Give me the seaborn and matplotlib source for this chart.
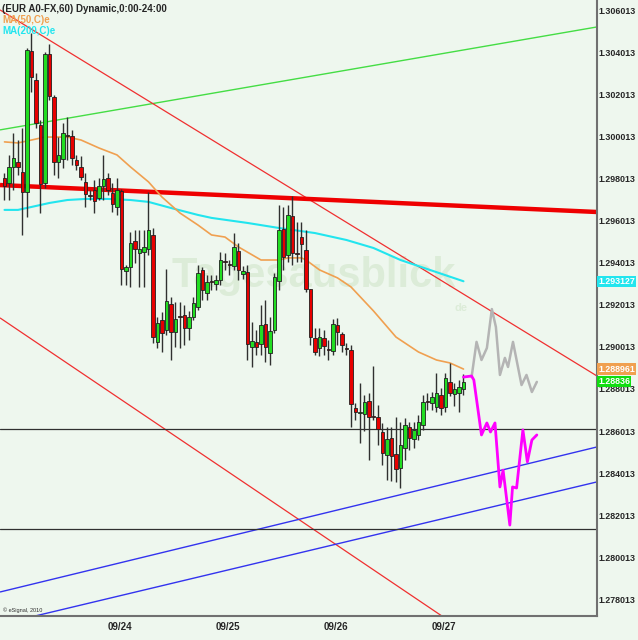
import matplotlib
matplotlib.use("Agg")
import matplotlib.pyplot as plt
import numpy as np
import pandas as pd
import seaborn as sns

# hourly candles, index 0 = first bar on screen, 09/24 00:00 is bar 23
OPEN = [1.29804, 1.29780, 1.29856, 1.29880, 1.29832, 1.29737, 1.30407, 1.30269, 1.30055, 1.29780,
        1.30393, 1.30188, 1.29880, 1.29894, 1.30008, 1.30003, 1.29889, 1.29856, 1.29785, 1.29723,
        1.29747, 1.29709, 1.29766, 1.29804, 1.29732, 1.29666, 1.29742, 1.29362, 1.29381, 1.29504,
        1.29447, 1.29452, 1.29466, 1.29533, 1.29025, 1.29129, 1.29082, 1.29205, 1.29072, 1.29148,
        1.29153, 1.29091, 1.29143, 1.29191, 1.29367, 1.29257, 1.29314, 1.29300, 1.29319, 1.29409,
        1.29395, 1.29386, 1.29457, 1.29348, 1.29357, 1.29001, 1.29025, 1.29015, 1.29110, 1.28972,
        1.29082, 1.29314, 1.29561, 1.29438, 1.29623, 1.29447, 1.29523, 1.29462, 1.29276, 1.29044,
        1.28996, 1.29044, 1.28991, 1.28982, 1.29105, 1.29063, 1.28996, 1.28987, 1.28711, 1.28687,
        1.28683, 1.28744, 1.28673, 1.28668, 1.28597, 1.28488, 1.28569, 1.28493, 1.28426, 1.28521,
        1.28621, 1.28564, 1.28583, 1.28630, 1.28744, 1.28735, 1.28716, 1.28773, 1.28716, 1.28835,
        1.28778, 1.28782, 1.28801]
CLOSE = [1.29766, 1.29856, 1.29899, 1.29856, 1.29737, 1.30412, 1.30283, 1.30065, 1.29775, 1.30393,
         1.30193, 1.29880, 1.29913, 1.30017, 1.30003, 1.29899, 1.29865, 1.29808, 1.29728, 1.29718,
         1.29694, 1.29766, 1.29799, 1.29747, 1.29680, 1.29747, 1.29371, 1.29381, 1.29495, 1.29466,
         1.29466, 1.29476, 1.29557, 1.29048, 1.29115, 1.29067, 1.29219, 1.29072, 1.29134, 1.29143,
         1.29091, 1.29143, 1.29210, 1.29352, 1.29272, 1.29310, 1.29310, 1.29319, 1.29414, 1.29405,
         1.29390, 1.29476, 1.29367, 1.29362, 1.29015, 1.29029, 1.29001, 1.29105, 1.29001, 1.29077,
         1.29333, 1.29557, 1.29428, 1.29628, 1.29447, 1.29443, 1.29490, 1.29276, 1.29048, 1.28977,
         1.29048, 1.29006, 1.28987, 1.29110, 1.29072, 1.29010, 1.28991, 1.28730, 1.28692, 1.28692,
         1.28740, 1.28668, 1.28668, 1.28611, 1.28497, 1.28564, 1.28483, 1.28421, 1.28535, 1.28630,
         1.28569, 1.28607, 1.28645, 1.28740, 1.28740, 1.28763, 1.28782, 1.28711, 1.28854, 1.28782,
         1.28801, 1.28811, 1.28836]
HIGH = [1.29827, 1.29913, 1.30017, 1.29984, 1.30041, 1.30421, 1.30492, 1.30302, 1.30079, 1.30402,
        1.30440, 1.30198, 1.29998, 1.30065, 1.30093, 1.30032, 1.29913, 1.29908, 1.29827, 1.29747,
        1.29794, 1.29804, 1.29913, 1.29827, 1.29780, 1.29804, 1.29751, 1.29390, 1.29547, 1.29557,
        1.29557, 1.29557, 1.29737, 1.29566, 1.29143, 1.29167, 1.29371, 1.29238, 1.29215, 1.29215,
        1.29200, 1.29172, 1.29238, 1.29390, 1.29381, 1.29343, 1.29343, 1.29343, 1.29452, 1.29447,
        1.29414, 1.29542, 1.29495, 1.29386, 1.29390, 1.29120, 1.29082, 1.29200, 1.29224, 1.29143,
        1.29352, 1.29675, 1.29666, 1.29675, 1.29718, 1.29595, 1.29595, 1.29557, 1.29276, 1.29091,
        1.29091, 1.29082, 1.29034, 1.29134, 1.29139, 1.29072, 1.29020, 1.29010, 1.28735, 1.28830,
        1.28773, 1.28782, 1.28911, 1.28725, 1.28640, 1.28621, 1.28621, 1.28668, 1.28645, 1.28664,
        1.28645, 1.28645, 1.28678, 1.28773, 1.28782, 1.28787, 1.28877, 1.28806, 1.28877, 1.28925,
        1.28830, 1.28844, 1.28873]
LOW = [1.29699, 1.29699, 1.29747, 1.29818, 1.29533, 1.29618, 1.30212, 1.30041, 1.29637, 1.29756,
       1.30174, 1.29818, 1.29804, 1.29851, 1.29889, 1.29865, 1.29842, 1.29794, 1.29666, 1.29699,
       1.29637, 1.29699, 1.29699, 1.29723, 1.29642, 1.29628, 1.29295, 1.29295, 1.29286, 1.29400,
       1.29286, 1.29286, 1.29438, 1.29020, 1.28996, 1.28977, 1.29058, 1.28939, 1.29001, 1.28996,
       1.29010, 1.29034, 1.29129, 1.29177, 1.29224, 1.29224, 1.29272, 1.29272, 1.29295, 1.29367,
       1.29343, 1.29367, 1.29319, 1.29324, 1.28939, 1.28906, 1.28963, 1.28963, 1.28930, 1.28915,
       1.29067, 1.29272, 1.29367, 1.29405, 1.29390, 1.29405, 1.29405, 1.29262, 1.29010, 1.28963,
       1.28958, 1.28963, 1.28939, 1.28963, 1.29010, 1.28977, 1.28963, 1.28621, 1.28654, 1.28545,
       1.28602, 1.28464, 1.28654, 1.28535, 1.28440, 1.28369, 1.28364, 1.28360, 1.28331, 1.28464,
       1.28512, 1.28521, 1.28559, 1.28607, 1.28702, 1.28702, 1.28692, 1.28678, 1.28692, 1.28768,
       1.28721, 1.28692, 1.28773]

# moving averages, sampled at bar indices
MA50_IDX = [0, 3, 6, 9, 14, 17, 21, 25, 28, 32, 35, 39, 43, 46, 49, 52, 57, 61, 63, 66, 67, 70,
            74, 77, 82, 87, 92, 96, 99, 102]
MA50_VAL = [1.29975, 1.29970, 1.29984, 1.29998, 1.29998, 1.29984, 1.29946, 1.29913, 1.29856,
            1.29785, 1.29713, 1.29637, 1.29580, 1.29533, 1.29523, 1.29476, 1.29414, 1.29414,
            1.29424, 1.29424, 1.29414, 1.29367, 1.29329, 1.29286, 1.29172, 1.29048, 1.28977,
            1.28939, 1.28925, 1.28896]
MA200_IDX = [0, 3, 6, 10, 14, 18, 23, 28, 32, 37, 43, 46, 54, 61, 69, 76, 82, 88, 102]
MA200_VAL = [1.29652, 1.29652, 1.29666, 1.29685, 1.29699, 1.29704, 1.29704, 1.29699, 1.29690,
             1.29661, 1.29628, 1.29614, 1.29590, 1.29566, 1.29542, 1.29509, 1.29471, 1.29414,
             1.29313]

# projections drawn past the last bar
GREY_IDX = [103.8, 104.9, 106.0, 107.2, 108.3, 109.2, 110.1, 111.2, 111.9, 113.0, 114.9, 116.0,
            117.2, 118.3]
GREY_VAL = [1.28858, 1.29025, 1.28939, 1.28996, 1.29181, 1.29096, 1.28868, 1.28949, 1.28906,
            1.29025, 1.28820, 1.28868, 1.28787, 1.28835]
PINK_IDX = [102.0, 103.8, 104.3, 106.0, 107.2, 108.0, 109.0, 110.1, 110.8, 112.3, 112.9, 113.8,
            115.2, 116.2, 117.2, 118.3]
PINK_VAL = [1.28858, 1.28863, 1.28844, 1.28583, 1.28640, 1.28597, 1.28640, 1.28336, 1.28416,
            1.28155, 1.28336, 1.28331, 1.28607, 1.28455, 1.28559, 1.28583]

# trend lines as (start bar, start price, end bar, end price)
THICK_RED = (-1, 1.29770, 131.67, 1.29642)
GREEN_LINE = (-1, 1.30032, 131.67, 1.30521)
RED_UPPER = (-1, 1.30602, 131.67, 1.28863)
RED_LOWER = (-1, 1.29139, 97.2, 1.27723)
BLUE_UPPER = (-1, 1.27837, 131.67, 1.28526)
BLUE_LOWER = (6.8, 1.27723, 131.67, 1.28360)
H_LINES = [1.28611, 1.28136]

PRICE_TICKS = [1.278013, 1.280013, 1.282013, 1.284013, 1.286013, 1.288013, 1.290013, 1.292013,
               1.294013, 1.296013, 1.298013, 1.300013, 1.302013, 1.304013, 1.306013]
DAY_BARS = [23, 47, 71, 95]
DAY_LABELS = ["09/24", "09/25", "09/26", "09/27"]

BG = "#eef7ee"
UP = "#22dd22"
DOWN = "#e80000"


def draw_candles(ax, df):
    ax.vlines(df["bar"], df["low"], df["high"], color="#303030", lw=1.0, zorder=3)
    bottom = df[["open", "close"]].min(axis=1)
    height = (df["close"] - df["open"]).abs().clip(lower=0.00002)
    colors = np.where(df["close"] >= df["open"], UP, DOWN)
    ax.bar(df["bar"], height, bottom=bottom, width=0.78, color=colors,
           edgecolor="#202020", linewidth=0.6, zorder=4)


def draw_segment(ax, seg, color, lw):
    x0, y0, x1, y1 = seg
    ax.plot([x0, x1], [y0, y1], color=color, lw=lw, zorder=2, solid_capstyle="butt")


def main():
    sns.set_style("white")
    plt.rcParams["font.family"] = ["Liberation Sans", "DejaVu Sans"]

    fig = plt.figure(figsize=(6.38, 6.40), dpi=100, facecolor=BG)
    ax = fig.add_axes([0, 24 / 640, 597 / 638, 616 / 640])
    ax.set_facecolor(BG)

    candles = pd.DataFrame({"bar": np.arange(len(OPEN)), "open": OPEN, "close": CLOSE,
                            "high": HIGH, "low": LOW})

    draw_segment(ax, GREEN_LINE, "#44dd44", 1.0)
    draw_segment(ax, RED_UPPER, "#f03030", 0.9)
    draw_segment(ax, RED_LOWER, "#f03030", 0.9)
    draw_segment(ax, BLUE_UPPER, "#3333ee", 1.0)
    draw_segment(ax, BLUE_LOWER, "#3333ee", 1.0)
    for level in H_LINES:
        ax.axhline(level, color="#303030", lw=0.9, zorder=2)

    # faint watermark
    ax.text(0.525, 1 - 276 / 616, "Tagesausblick", transform=ax.transAxes, fontsize=30,
            fontweight="bold", color="#dcecd8", ha="center", va="center", zorder=1)
    ax.text(0.772, 1 - 308 / 616, "de", transform=ax.transAxes, fontsize=8,
            fontweight="bold", color="#dcecd8", ha="center", va="center", zorder=1)

    sns.lineplot(x=MA200_IDX, y=MA200_VAL, color="#22e5ee", lw=1.5, ax=ax, zorder=3)
    sns.lineplot(x=MA50_IDX, y=MA50_VAL, color="#f0a050", lw=1.2, ax=ax, zorder=3)
    draw_segment(ax, THICK_RED, "#ee0000", 3.2)

    draw_candles(ax, candles)

    sns.lineplot(x=GREY_IDX, y=GREY_VAL, color="#b4b4b4", lw=1.8, ax=ax, zorder=5, sort=False)
    sns.lineplot(x=PINK_IDX, y=PINK_VAL, color="#ff00ff", lw=2.0, ax=ax, zorder=6, sort=False)

    ax.set_xlim(-1, 131.67)
    ax.set_ylim(1.27723, 1.30649)

    ax.yaxis.tick_right()
    ax.set_yticks(PRICE_TICKS)
    ax.set_yticklabels([f"{t:.6f}" for t in PRICE_TICKS], fontsize=6.4, fontweight="bold")
    ax.tick_params(axis="y", length=0, pad=1)
    ax.set_xticks(DAY_BARS)
    ax.set_xticklabels(DAY_LABELS, fontsize=7, fontweight="bold", ha="left")
    ax.tick_params(axis="x", length=2, pad=2)

    for side in ["top", "left"]:
        ax.spines[side].set_visible(False)
    ax.spines["right"].set_color("#707070")
    ax.spines["bottom"].set_color("#707070")
    ax.spines["right"].set_linewidth(1.5)
    ax.spines["bottom"].set_linewidth(1.5)

    tags = [(1.293127, "1.293127", "#22e5ee"), (1.288961, "1.288961", "#f0a050"),
            (1.28836, "1.28836", "#11dd11")]
    for value, label, color in tags:
        ax.annotate(label, xy=(1.002, value), xycoords=("axes fraction", "data"),
                    fontsize=6.4, fontweight="bold", color="white", va="center", ha="left",
                    bbox=dict(boxstyle="square,pad=0.12", fc=color, ec="none"),
                    annotation_clip=False, zorder=10)

    fig.text(2 / 638, 1 - 9 / 640, "(EUR A0-FX,60) Dynamic,0:00-24:00", fontsize=7,
             fontweight="bold", va="center", ha="left")
    fig.text(2 / 638, 1 - 20 / 640, "MA(50,C)e", fontsize=7, fontweight="bold",
             color="#f0a050", va="center", ha="left")
    fig.text(2 / 638, 1 - 31 / 640, "MA(200,C)e", fontsize=7, fontweight="bold",
             color="#22e5ee", va="center", ha="left")
    fig.text(3 / 638, 1 - 610 / 640, "\u00a9 eSignal, 2010", fontsize=4, color="#303030",
             va="center", ha="left")

    fig.savefig("out.png", dpi=100, facecolor=BG)
    plt.close(fig)


if __name__ == "__main__":
    main()
